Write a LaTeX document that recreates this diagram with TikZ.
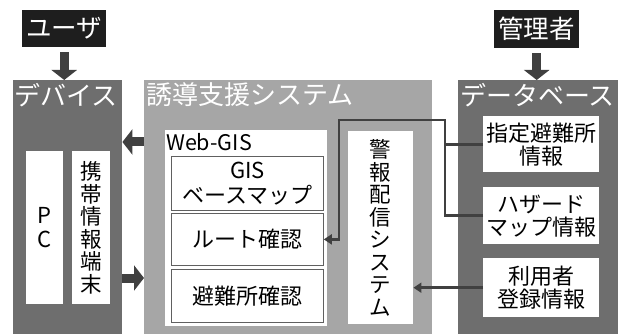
\documentclass[tikz,border=0pt]{standalone}
\usepackage{fontspec}
\setmainfont{Noto Sans CJK JP}
\usetikzlibrary{arrows.meta,calc}
\definecolor{darkbox}{HTML}{6E6E6E}
\definecolor{midbox}{HTML}{A6A6A6}
\definecolor{blackbox}{HTML}{1E1E1E}
\definecolor{arrowc}{HTML}{404040}
\definecolor{subline}{HTML}{606060}
\tikzset{
  actor/.style={fill=blackbox, draw=none, text=white, inner sep=0pt, anchor=north west,
    font=\fontsize{25.5}{27}\selectfont},
  bigbox/.style={draw=none, inner sep=0pt, anchor=north west},
  titletext/.style={text=white, inner sep=0pt, anchor=west, font=\fontsize{26}{28}\selectfont},
  whitebox/.style={fill=white, draw=none, inner sep=0pt, anchor=north west, align=center,
    font=\fontsize{22}{23}\selectfont},
  subbox/.style={fill=white, draw=subline, line width=0.8pt, inner sep=0pt, anchor=north west,
    align=center, font=\fontsize{22}{25}\selectfont},
  vtext/.style={fill=white, draw=none, inner sep=0pt, anchor=north west, align=center,
    font=\fontsize{21.5}{22.5}\selectfont},
  blockarrow/.style={draw=arrowc, line width=9pt, -{Triangle[width=25pt,length=10pt]}},
  conn/.style={draw=arrowc, line width=2.8pt},
  connarrow/.style={conn, -{Triangle[width=10pt,length=8pt]}},
}
\begin{document}
\begin{tikzpicture}[x=1pt,y=-1pt]
\useasboundingbox[fill=white] (0,0) rectangle (619,334);
% actors
\node[actor, minimum width=84pt, minimum height=37pt] (user) at (22,10) {ユーザ};
\node[actor, minimum width=85pt, minimum height=38pt] (admin) at (494,10) {管理者};
% big boxes
\node[bigbox, fill=darkbox, minimum width=109pt, minimum height=254pt] (dev) at (13,80) {};
\node[bigbox, fill=midbox, minimum width=288pt, minimum height=254pt] (sys) at (144,80) {};
\node[bigbox, fill=darkbox, minimum width=160pt, minimum height=254pt] (db) at (458,80) {};
\node[titletext] (devt) at (14,95) {デバイス};
\node[titletext] (syst) at (146,95) {誘導支援システム};
\node[titletext] (dbt) at (460,95) {データベース};
% block arrows
\draw[blockarrow] (user.south) ++(0,5) coordinate (ua) (ua) -- (ua |- dev.north);
\draw[blockarrow] (admin.south) ++(0,5) coordinate (aa) (aa) -- (aa |- db.north);
\draw[blockarrow] (sys.west |- 0,142) -- (dev.east |- 0,142);
\draw[blockarrow] (dev.east |- 0,278) -- (sys.west |- 0,278);
% device contents
\node[vtext, minimum width=37pt, minimum height=153pt, font=\fontsize{22}{24}\selectfont] (pc) at (26,151) {P\\C};
\node[vtext, minimum width=38pt, minimum height=153pt] (mobile) at (72,151) {携\\帯\\情\\報\\端\\末};
% system contents
\node[bigbox, fill=white, minimum width=162pt, minimum height=196pt] (webgis) at (165,130) {};
\node[anchor=west, inner sep=0pt, font=\fontsize{21.5}{23}\selectfont] (webgist) at (166,142) {Web-GIS};
\node[subbox, minimum width=152pt, minimum height=54pt] (base) at (171,156) {GIS\\ベースマップ};
\node[subbox, minimum width=152pt, minimum height=52pt] (route) at (171,213) {ルート確認};
\node[subbox, minimum width=152pt, minimum height=53pt] (shelter) at (171,269) {避難所確認};
\node[vtext, minimum width=65pt, minimum height=193pt] (alert) at (348,131) {警\\報\\配\\信\\シ\\ス\\テ\\ム};
% database contents
\node[whitebox, minimum width=116pt, minimum height=56pt] (shitei) at (483,116) {指定避難所\\情報};
\node[whitebox, minimum width=116pt, minimum height=57pt] (hazard) at (483,187) {ハザード\\マップ情報};
\node[whitebox, minimum width=116pt, minimum height=59pt] (riyou) at (483,258) {利用者\\登録情報};
% connectors
\coordinate (jx) at (445,120);
\coordinate (jy) at (339,120);
\draw[connarrow] (hazard.west) -| (jx) -- (jy) |- (route.east);
\draw[conn] (shitei.west) -- (shitei.west -| jx);
\draw[connarrow] (riyou.west) -- (riyou.west -| alert.east);
\end{tikzpicture}
\end{document}
